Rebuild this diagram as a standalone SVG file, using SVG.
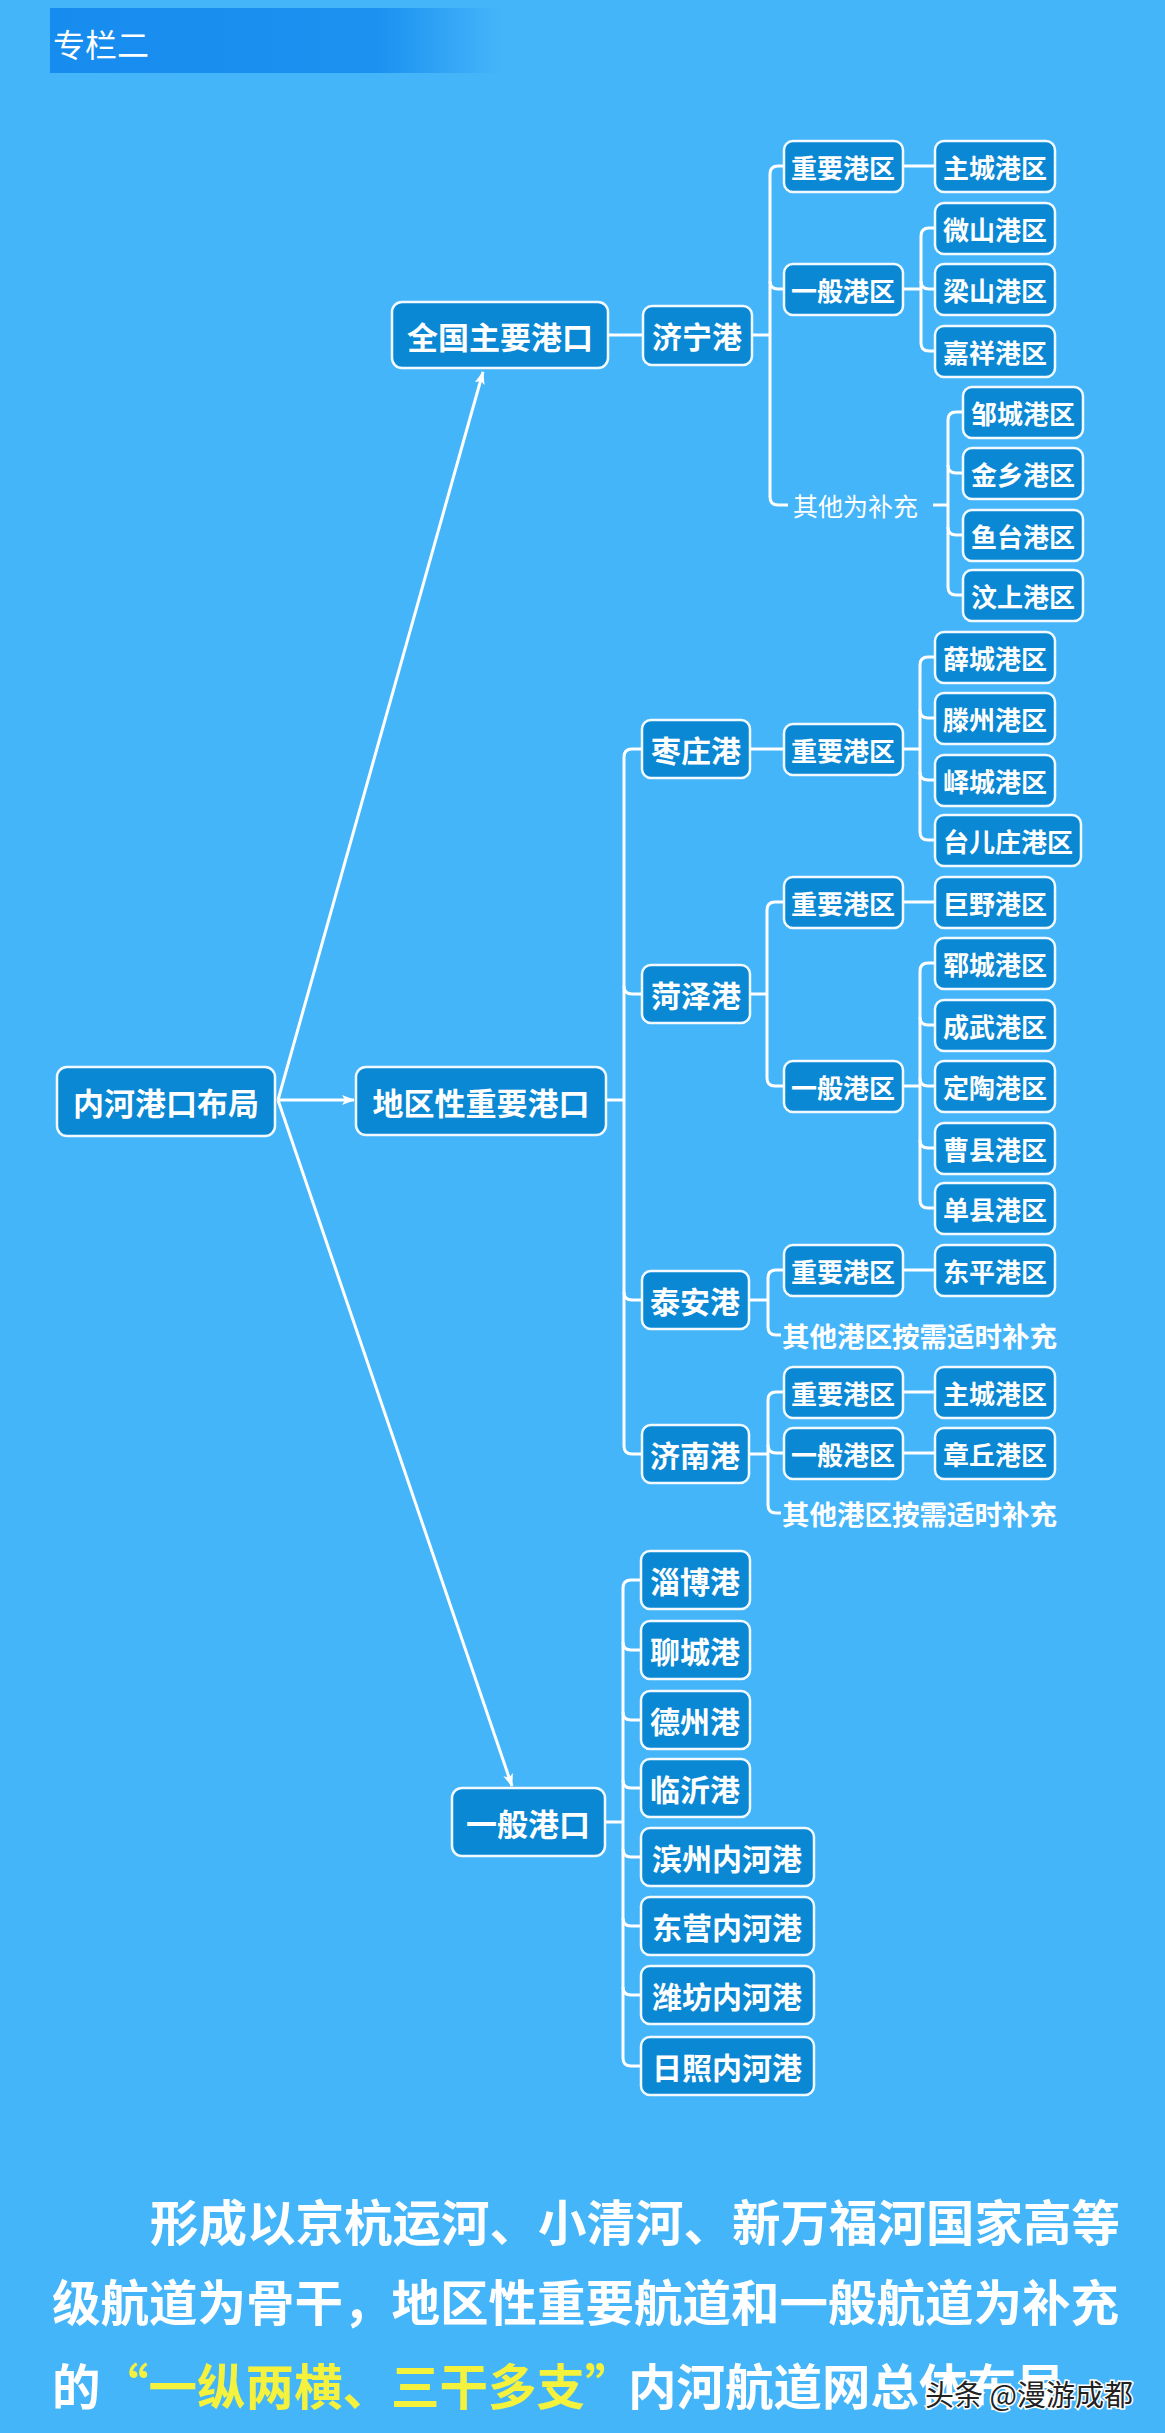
<svg xmlns="http://www.w3.org/2000/svg" width="1165" height="2433" viewBox="0 0 1165 2433">
<style>
.n rect{fill:#0a88d4;stroke:#f2faff;stroke-width:2.5}
.t{font-family:"Noto Sans CJK SC","Noto Sans",sans-serif;font-weight:700;fill:#fff;dominant-baseline:central;text-anchor:middle}
.t1{font-size:31px}
.t2{font-size:30px}
.t3{font-size:26px}
.lbl{font-family:"Noto Sans CJK SC","Noto Sans",sans-serif;fill:#fff;dominant-baseline:central}
.c path{fill:none;stroke:#fff;stroke-width:3}
.a{fill:none;stroke:#fff;stroke-width:2.5;marker-end:url(#ah)}
.para{font-family:"Noto Sans CJK SC","Noto Sans",sans-serif;font-weight:700;font-size:48.5px;fill:#fff;dominant-baseline:central}
</style>
<defs>
<linearGradient id="hb" x1="0" y1="0" x2="1" y2="0">
<stop offset="0" stop-color="#178cef"/>
<stop offset="0.72" stop-color="#1b91f0"/>
<stop offset="1" stop-color="#45b5fa"/>
</linearGradient>
<marker id="ah" markerUnits="userSpaceOnUse" markerWidth="14" markerHeight="12" refX="12" refY="5" orient="auto">
<path d="M0 0 L13 5 L0 10 L3 5 z" fill="#fff"/>
</marker>
</defs>
<rect x="0" y="0" width="1165" height="2433" fill="#45b5fa"/>
<g id="header">
<rect x="50" y="8" width="452" height="65" fill="url(#hb)"/>
<text x="53" y="43" class="lbl" style="font-size:32px">专栏二</text>
</g>

<g id="connectors" class="c">
<path d="M608 335 H643"/>
<path d="M752 335 H770"/>
<path d="M784 166 H778 Q770 166 770 174 V497 Q770 505 778 505 H788"/>
<path d="M770 281 Q770 289 778 289 H784"/>
<path d="M903 166 H935"/>
<path d="M903 289 H921"/>
<path d="M935 228 H929 Q921 228 921 236 V343 Q921 351 929 351 H935"/>
<path d="M921 281 Q921 289 929 289 H935"/>
<path d="M933 505 H948"/>
<path d="M963 412 H956 Q948 412 948 420 V587 Q948 595 956 595 H963"/>
<path d="M948 465 Q948 473 956 473 H963"/>
<path d="M948 527 Q948 535 956 535 H963"/>

<path d="M606 1100 H624"/>
<path d="M642 749 H632 Q624 749 624 757 V1446 Q624 1454 632 1454 H642"/>
<path d="M624 986 Q624 994 632 994 H642"/>
<path d="M624 1292 Q624 1300 632 1300 H642"/>

<path d="M750 749 H784"/>
<path d="M903 749 H920"/>
<path d="M935 657 H928 Q920 657 920 665 V832 Q920 840 928 840 H935"/>
<path d="M920 710 Q920 718 928 718 H935"/>
<path d="M920 772 Q920 780 928 780 H935"/>

<path d="M750 994 H767"/>
<path d="M784 902 H775 Q767 902 767 910 V1078 Q767 1086 775 1086 H784"/>
<path d="M903 902 H935"/>
<path d="M903 1086 H920"/>
<path d="M935 963 H928 Q920 963 920 971 V1200 Q920 1208 928 1208 H935"/>
<path d="M920 1017 Q920 1025 928 1025 H935"/>
<path d="M920 1078 Q920 1086 928 1086 H935"/>
<path d="M920 1140 Q920 1148 928 1148 H935"/>

<path d="M749 1300 H768"/>
<path d="M784 1270 H776 Q768 1270 768 1278 V1327 Q768 1335 776 1335 H781"/>
<path d="M903 1270 H935"/>

<path d="M749 1454 H768"/>
<path d="M784 1392 H776 Q768 1392 768 1400 V1505 Q768 1513 776 1513 H781"/>
<path d="M768 1445 Q768 1453 776 1453 H784"/>
<path d="M903 1392 H935"/>
<path d="M903 1453 H935"/>

<path d="M605 1822 H623"/>
<path d="M641 1580 H631 Q623 1580 623 1588 V2058 Q623 2066 631 2066 H641"/>
<path d="M623 1642 Q623 1650 631 1650 H641"/>
<path d="M623 1712 Q623 1720 631 1720 H641"/>
<path d="M623 1780 Q623 1788 631 1788 H641"/>
<path d="M623 1849 Q623 1857 631 1857 H641"/>
<path d="M623 1918 Q623 1926 631 1926 H641"/>
<path d="M623 1987 Q623 1995 631 1995 H641"/>

<path class="a" d="M278 1100 L483 372"/>
<path class="a" d="M278 1100 L354 1100"/>
<path class="a" d="M278 1100 L512 1786"/>
</g>

<g id="root" class="n"><rect x="57" y="1067" width="218" height="69" rx="10"/><text class="t t1" x="166" y="1101">内河港口布局</text></g>
<g id="quanguo" class="n"><rect x="392" y="302" width="216" height="66" rx="10"/><text class="t t1" x="500" y="335">全国主要港口</text></g>
<g id="diqu" class="n"><rect x="356" y="1067" width="250" height="68" rx="10"/><text class="t t1" x="481" y="1101">地区性重要港口</text></g>
<g id="yiban" class="n"><rect x="452" y="1788" width="153" height="68" rx="10"/><text class="t t1" x="528" y="1822">一般港口</text></g>

<g id="jining" class="n"><rect x="643" y="306" width="109" height="59" rx="9"/><text class="t t2" x="697" y="335">济宁港</text></g>
<g id="jn_zy" class="n"><rect x="784" y="141" width="119" height="51" rx="9"/><text class="t t3" x="843" y="166">重要港区</text></g>
<g id="jn_yb" class="n"><rect x="784" y="264" width="119" height="51" rx="9"/><text class="t t3" x="843" y="289">一般港区</text></g>
<g id="jn_qt"><text class="lbl" x="793" y="505" style="font-size:25px">其他为补充</text></g>
<g id="jn_zhucheng" class="n"><rect x="935" y="141" width="120" height="51" rx="9"/><text class="t t3" x="995" y="166">主城港区</text></g>
<g id="weishan" class="n"><rect x="935" y="203" width="120" height="51" rx="9"/><text class="t t3" x="995" y="228">微山港区</text></g>
<g id="liangshan" class="n"><rect x="935" y="264" width="120" height="51" rx="9"/><text class="t t3" x="995" y="289">梁山港区</text></g>
<g id="jiaxiang" class="n"><rect x="935" y="326" width="120" height="51" rx="9"/><text class="t t3" x="995" y="351">嘉祥港区</text></g>
<g id="zoucheng" class="n"><rect x="963" y="387" width="120" height="51" rx="9"/><text class="t t3" x="1023" y="412">邹城港区</text></g>
<g id="jinxiang" class="n"><rect x="963" y="448" width="120" height="51" rx="9"/><text class="t t3" x="1023" y="473">金乡港区</text></g>
<g id="yutai" class="n"><rect x="963" y="510" width="120" height="51" rx="9"/><text class="t t3" x="1023" y="535">鱼台港区</text></g>
<g id="wenshang" class="n"><rect x="963" y="570" width="120" height="51" rx="9"/><text class="t t3" x="1023" y="595">汶上港区</text></g>

<g id="zaozhuang" class="n"><rect x="642" y="720" width="108" height="58" rx="9"/><text class="t t2" x="696" y="749">枣庄港</text></g>
<g id="zz_zy" class="n"><rect x="784" y="724" width="119" height="51" rx="9"/><text class="t t3" x="843" y="749">重要港区</text></g>
<g id="xuecheng" class="n"><rect x="935" y="632" width="120" height="51" rx="9"/><text class="t t3" x="995" y="657">薛城港区</text></g>
<g id="tengzhou" class="n"><rect x="935" y="693" width="120" height="51" rx="9"/><text class="t t3" x="995" y="718">滕州港区</text></g>
<g id="yicheng" class="n"><rect x="935" y="755" width="120" height="51" rx="9"/><text class="t t3" x="995" y="780">峄城港区</text></g>
<g id="taierzhuang" class="n"><rect x="935" y="815" width="146" height="51" rx="9"/><text class="t t3" x="1008" y="840">台儿庄港区</text></g>

<g id="heze" class="n"><rect x="642" y="965" width="108" height="58" rx="9"/><text class="t t2" x="696" y="994">菏泽港</text></g>
<g id="hz_zy" class="n"><rect x="784" y="877" width="119" height="51" rx="9"/><text class="t t3" x="843" y="902">重要港区</text></g>
<g id="hz_yb" class="n"><rect x="784" y="1061" width="119" height="51" rx="9"/><text class="t t3" x="843" y="1086">一般港区</text></g>
<g id="juye" class="n"><rect x="935" y="877" width="120" height="51" rx="9"/><text class="t t3" x="995" y="902">巨野港区</text></g>
<g id="yuncheng" class="n"><rect x="935" y="938" width="120" height="51" rx="9"/><text class="t t3" x="995" y="963">郓城港区</text></g>
<g id="chengwu" class="n"><rect x="935" y="1000" width="120" height="51" rx="9"/><text class="t t3" x="995" y="1025">成武港区</text></g>
<g id="dingtao" class="n"><rect x="935" y="1061" width="120" height="51" rx="9"/><text class="t t3" x="995" y="1086">定陶港区</text></g>
<g id="caoxian" class="n"><rect x="935" y="1123" width="120" height="51" rx="9"/><text class="t t3" x="995" y="1148">曹县港区</text></g>
<g id="shanxian" class="n"><rect x="935" y="1183" width="120" height="51" rx="9"/><text class="t t3" x="995" y="1208">单县港区</text></g>

<g id="taian" class="n"><rect x="642" y="1271" width="107" height="58" rx="9"/><text class="t t2" x="695" y="1300">泰安港</text></g>
<g id="ta_zy" class="n"><rect x="784" y="1245" width="119" height="51" rx="9"/><text class="t t3" x="843" y="1270">重要港区</text></g>
<g id="dongping" class="n"><rect x="935" y="1245" width="120" height="51" rx="9"/><text class="t t3" x="995" y="1270">东平港区</text></g>
<g id="ta_qt"><text class="lbl" x="782" y="1335" style="font-size:27.5px;font-weight:700">其他港区按需适时补充</text></g>

<g id="jinan" class="n"><rect x="642" y="1425" width="107" height="58" rx="9"/><text class="t t2" x="695" y="1454">济南港</text></g>
<g id="jnn_zy" class="n"><rect x="784" y="1367" width="119" height="51" rx="9"/><text class="t t3" x="843" y="1392">重要港区</text></g>
<g id="jnn_yb" class="n"><rect x="784" y="1428" width="119" height="51" rx="9"/><text class="t t3" x="843" y="1453">一般港区</text></g>
<g id="jnn_zhucheng" class="n"><rect x="935" y="1367" width="120" height="51" rx="9"/><text class="t t3" x="995" y="1392">主城港区</text></g>
<g id="zhangqiu" class="n"><rect x="935" y="1428" width="120" height="51" rx="9"/><text class="t t3" x="995" y="1453">章丘港区</text></g>
<g id="jnn_qt"><text class="lbl" x="782" y="1513" style="font-size:27.5px;font-weight:700">其他港区按需适时补充</text></g>

<g id="zibo" class="n"><rect x="641" y="1551" width="109" height="58" rx="9"/><text class="t t2" x="695" y="1580">淄博港</text></g>
<g id="liaocheng" class="n"><rect x="641" y="1621" width="109" height="58" rx="9"/><text class="t t2" x="695" y="1650">聊城港</text></g>
<g id="dezhou" class="n"><rect x="641" y="1691" width="109" height="58" rx="9"/><text class="t t2" x="695" y="1720">德州港</text></g>
<g id="linyi" class="n"><rect x="641" y="1759" width="109" height="58" rx="9"/><text class="t t2" x="695" y="1788">临沂港</text></g>
<g id="binzhou" class="n"><rect x="641" y="1828" width="173" height="58" rx="9"/><text class="t t2" x="727" y="1857">滨州内河港</text></g>
<g id="dongying" class="n"><rect x="641" y="1897" width="173" height="58" rx="9"/><text class="t t2" x="727" y="1926">东营内河港</text></g>
<g id="weifang" class="n"><rect x="641" y="1966" width="173" height="58" rx="9"/><text class="t t2" x="727" y="1995">潍坊内河港</text></g>
<g id="rizhao" class="n"><rect x="641" y="2037" width="173" height="58" rx="9"/><text class="t t2" x="727" y="2066">日照内河港</text></g>

<g id="paragraph">
<text class="para" x="150" y="2220">形成以京杭运河、小清河、新万福河国家高等</text>
<text class="para" x="52" y="2300">级航道为骨干，地区性重要航道和一般航道为补充</text>
<text class="para" y="2384"><tspan x="52">的</tspan><tspan x="100" fill="#f4f23c">“一纵两横、三干多支”</tspan><tspan x="628">内河航道网总体布局</tspan></text>
</g>
<g id="watermark">
<text x="925" y="2393" style="font-family:'Noto Sans CJK SC','Noto Sans',sans-serif;font-size:29px;fill:#222;stroke:#fff;stroke-width:3;paint-order:stroke;dominant-baseline:central">头条 @漫游成都</text>
</g>
</svg>
